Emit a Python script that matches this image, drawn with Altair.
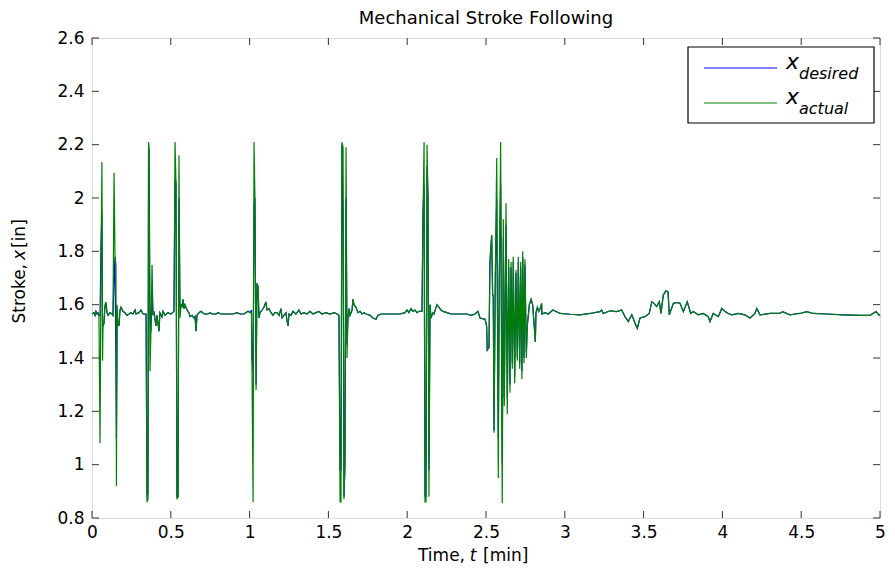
import altair as alt
import pandas as pd

t_min = [
    0.000, 0.013, 0.019, 0.025, 0.032, 0.038, 0.044, 0.051, 0.057, 0.063,
    0.067, 0.070, 0.076, 0.082, 0.089, 0.095, 0.102, 0.114, 0.127, 0.133,
    0.140, 0.146, 0.152, 0.155, 0.159, 0.165, 0.171, 0.178, 0.184, 0.197,
    0.209, 0.222, 0.235, 0.247, 0.260, 0.273, 0.279, 0.298, 0.311, 0.324,
    0.343, 0.349, 0.355, 0.359, 0.362, 0.368, 0.374, 0.381, 0.387, 0.393,
    0.400, 0.406, 0.412, 0.419, 0.425, 0.431, 0.444, 0.451, 0.463, 0.482,
    0.501, 0.520, 0.527, 0.533, 0.539, 0.546, 0.552, 0.558, 0.565, 0.571,
    0.577, 0.584, 0.590, 0.603, 0.615, 0.622, 0.635, 0.647, 0.654, 0.660,
    0.666, 0.679, 0.692, 0.711, 0.736, 0.749, 0.761, 0.787, 0.799, 0.819,
    0.844, 0.869, 0.895, 0.920, 0.939, 0.964, 0.990, 1.003, 1.012, 1.015,
    1.022, 1.028, 1.034, 1.041, 1.047, 1.053, 1.060, 1.066, 1.079, 1.091,
    1.104, 1.110, 1.123, 1.136, 1.148, 1.161, 1.174, 1.187, 1.199, 1.206,
    1.218, 1.231, 1.237, 1.244, 1.250, 1.263, 1.275, 1.294, 1.313, 1.326,
    1.345, 1.364, 1.383, 1.402, 1.421, 1.440, 1.459, 1.485, 1.510, 1.536,
    1.555, 1.567, 1.574, 1.580, 1.586, 1.593, 1.599, 1.605, 1.612, 1.618,
    1.624, 1.631, 1.637, 1.650, 1.656, 1.662, 1.675, 1.688, 1.701, 1.713,
    1.726, 1.739, 1.764, 1.783, 1.802, 1.815, 1.834, 1.859, 1.891, 1.923,
    1.954, 1.986, 1.999, 2.011, 2.024, 2.037, 2.049, 2.062, 2.075, 2.094,
    2.100, 2.107, 2.113, 2.119, 2.126, 2.132, 2.138, 2.145, 2.151, 2.157,
    2.164, 2.170, 2.183, 2.189, 2.202, 2.214, 2.227, 2.253, 2.278, 2.303,
    2.329, 2.354, 2.379, 2.405, 2.430, 2.449, 2.462, 2.494, 2.504, 2.508,
    2.519, 2.525, 2.536, 2.542, 2.546, 2.551, 2.559, 2.568, 2.578, 2.584,
    2.593, 2.603, 2.610, 2.616, 2.627, 2.635, 2.644, 2.652, 2.659, 2.667,
    2.673, 2.682, 2.690, 2.699, 2.705, 2.714, 2.720, 2.728, 2.733, 2.741,
    2.747, 2.756, 2.762, 2.775, 2.786, 2.796, 2.806, 2.813, 2.817, 2.826,
    2.834, 2.843, 2.853, 2.855, 2.874, 2.895, 2.925, 2.970, 3.033, 3.096,
    3.160, 3.223, 3.234, 3.244, 3.287, 3.329, 3.361, 3.382, 3.403, 3.425,
    3.446, 3.460, 3.477, 3.509, 3.536, 3.552, 3.566, 3.583, 3.600, 3.610,
    3.625, 3.642, 3.655, 3.663, 3.689, 3.710, 3.731, 3.752, 3.777, 3.799,
    3.815, 3.847, 3.878, 3.910, 3.921, 3.942, 3.974, 3.996, 4.017, 4.037,
    4.059, 4.101, 4.143, 4.175, 4.207, 4.218, 4.239, 4.302, 4.365, 4.382,
    4.429, 4.461, 4.492, 4.535, 4.577, 4.662, 4.767, 4.873, 4.937, 4.975,
    4.996, 5.000,
]

x_actual = [
    1.565, 1.570, 1.560, 1.575, 1.565, 1.570, 1.560, 1.080, 1.750, 2.135,
    1.390, 1.520, 1.530, 1.600, 1.610, 1.570, 1.560, 1.570, 1.565, 1.560,
    2.095, 1.780, 1.750, 0.920, 1.600, 1.530, 1.520, 1.580, 1.590, 1.575,
    1.570, 1.560, 1.565, 1.570, 1.565, 1.580, 1.565, 1.570, 1.580, 1.565,
    1.565, 0.860, 0.870, 2.210, 2.190, 1.350, 1.500, 1.750, 1.560, 1.575,
    1.545, 1.520, 1.560, 1.530, 1.500, 1.570, 1.555, 1.575, 1.560, 1.570,
    1.565, 1.575, 2.210, 2.050, 0.870, 0.880, 2.160, 1.550, 1.600, 1.590,
    1.620, 1.585, 1.600, 1.580, 1.570, 1.555, 1.560, 1.550, 1.555, 1.500,
    1.560, 1.570, 1.575, 1.565, 1.565, 1.570, 1.565, 1.565, 1.570, 1.565,
    1.565, 1.565, 1.565, 1.570, 1.565, 1.565, 1.575, 1.570, 1.570, 1.380,
    0.860, 2.210, 2.000, 1.280, 1.680, 1.670, 1.550, 1.570, 1.580, 1.590,
    1.610, 1.580, 1.585, 1.570, 1.560, 1.570, 1.570, 1.560, 1.585, 1.550,
    1.560, 1.570, 1.540, 1.520, 1.565, 1.560, 1.575, 1.565, 1.580, 1.565,
    1.570, 1.565, 1.575, 1.565, 1.570, 1.575, 1.565, 1.570, 1.565, 1.570,
    1.565, 1.560, 0.860, 0.860, 2.210, 2.190, 0.870, 1.000, 2.190, 1.400,
    1.550, 1.585, 1.560, 1.580, 1.620, 1.600, 1.590, 1.570, 1.575, 1.565,
    1.570, 1.565, 1.560, 1.550, 1.545, 1.560, 1.565, 1.565, 1.565, 1.565,
    1.565, 1.570, 1.580, 1.570, 1.585, 1.575, 1.580, 1.570, 1.575, 1.575,
    1.900, 2.210, 0.860, 0.860, 2.200, 2.000, 0.880, 1.600, 1.550, 1.560,
    1.570, 1.565, 1.590, 1.600, 1.590, 1.580, 1.575, 1.570, 1.565, 1.565,
    1.565, 1.565, 1.565, 1.560, 1.565, 1.575, 1.550, 1.545, 1.520, 1.430,
    1.440, 1.760, 1.860, 1.640, 1.630, 1.120, 1.700, 2.150, 0.950, 1.690,
    2.210, 0.855, 1.920, 1.220, 1.980, 1.190, 1.770, 1.270, 1.760, 1.360,
    1.780, 1.305, 1.730, 1.390, 1.780, 1.360, 1.760, 1.320, 1.800, 1.380,
    1.770, 1.400, 1.520, 1.600, 1.620, 1.600, 1.520, 1.460, 1.570, 1.590,
    1.575, 1.585, 1.605, 1.565, 1.570, 1.565, 1.580, 1.567, 1.564, 1.562,
    1.567, 1.574, 1.580, 1.567, 1.577, 1.574, 1.580, 1.555, 1.537, 1.562,
    1.530, 1.511, 1.550, 1.555, 1.567, 1.611, 1.605, 1.593, 1.611, 1.567,
    1.636, 1.652, 1.648, 1.562, 1.605, 1.608, 1.605, 1.574, 1.611, 1.567,
    1.574, 1.562, 1.567, 1.555, 1.537, 1.567, 1.555, 1.586, 1.574, 1.567,
    1.562, 1.567, 1.562, 1.550, 1.567, 1.586, 1.562, 1.567, 1.567, 1.574,
    1.562, 1.565, 1.567, 1.574, 1.567, 1.565, 1.562, 1.560, 1.560, 1.574,
    1.560, 1.562,
]

x_desired = [
    1.565, 1.570, 1.560, 1.575, 1.565, 1.570, 1.560, 1.560, 1.820, 1.950,
    1.520, 1.520, 1.530, 1.590, 1.600, 1.570, 1.560, 1.570, 1.565, 1.560,
    1.700, 1.780, 1.350, 1.100, 1.520, 1.530, 1.520, 1.580, 1.590, 1.575,
    1.570, 1.560, 1.565, 1.570, 1.565, 1.580, 1.565, 1.570, 1.580, 1.565,
    1.565, 0.880, 0.890, 2.190, 2.180, 1.550, 1.500, 1.650, 1.560, 1.575,
    1.545, 1.520, 1.560, 1.530, 1.500, 1.570, 1.555, 1.575, 1.560, 1.570,
    1.565, 1.575, 2.070, 2.060, 0.880, 0.880, 2.000, 1.600, 1.600, 1.590,
    1.620, 1.585, 1.600, 1.580, 1.570, 1.555, 1.560, 1.550, 1.555, 1.500,
    1.560, 1.570, 1.575, 1.565, 1.565, 1.570, 1.565, 1.565, 1.570, 1.565,
    1.565, 1.565, 1.565, 1.570, 1.565, 1.565, 1.575, 1.570, 1.580, 1.400,
    1.350, 1.980, 2.000, 1.300, 1.680, 1.670, 1.550, 1.570, 1.580, 1.590,
    1.610, 1.580, 1.585, 1.570, 1.560, 1.570, 1.570, 1.560, 1.585, 1.550,
    1.560, 1.570, 1.540, 1.520, 1.565, 1.560, 1.575, 1.565, 1.580, 1.565,
    1.570, 1.565, 1.575, 1.565, 1.570, 1.575, 1.565, 1.570, 1.565, 1.570,
    1.565, 1.560, 0.980, 0.980, 2.200, 1.930, 0.880, 1.000, 2.000, 1.450,
    1.550, 1.585, 1.560, 1.580, 1.620, 1.600, 1.590, 1.570, 1.575, 1.565,
    1.570, 1.565, 1.560, 1.550, 1.545, 1.560, 1.565, 1.565, 1.565, 1.565,
    1.565, 1.570, 1.580, 1.570, 1.585, 1.575, 1.580, 1.570, 1.575, 1.575,
    1.950, 2.050, 0.880, 0.880, 2.120, 2.000, 0.980, 1.600, 1.550, 1.560,
    1.570, 1.565, 1.590, 1.600, 1.590, 1.580, 1.575, 1.570, 1.565, 1.565,
    1.565, 1.565, 1.565, 1.560, 1.565, 1.575, 1.550, 1.545, 1.520, 1.430,
    1.440, 1.760, 1.860, 1.640, 1.630, 1.130, 1.700, 2.000, 1.100, 1.690,
    2.050, 1.000, 1.850, 1.250, 1.900, 1.250, 1.740, 1.300, 1.740, 1.380,
    1.760, 1.330, 1.720, 1.400, 1.760, 1.380, 1.740, 1.350, 1.780, 1.400,
    1.750, 1.420, 1.520, 1.600, 1.620, 1.600, 1.520, 1.460, 1.570, 1.590,
    1.575, 1.585, 1.605, 1.565, 1.570, 1.565, 1.580, 1.567, 1.564, 1.562,
    1.567, 1.574, 1.580, 1.567, 1.577, 1.574, 1.580, 1.555, 1.537, 1.562,
    1.530, 1.511, 1.550, 1.555, 1.567, 1.611, 1.605, 1.593, 1.611, 1.567,
    1.636, 1.652, 1.648, 1.562, 1.605, 1.608, 1.605, 1.574, 1.611, 1.567,
    1.574, 1.562, 1.567, 1.555, 1.537, 1.567, 1.555, 1.586, 1.574, 1.567,
    1.562, 1.567, 1.562, 1.550, 1.567, 1.586, 1.562, 1.567, 1.567, 1.574,
    1.562, 1.565, 1.567, 1.574, 1.567, 1.565, 1.562, 1.560, 1.560, 1.574,
    1.560, 1.562,
]

x_ticks = [0, 0.5, 1, 1.5, 2, 2.5, 3, 3.5, 4, 4.5, 5]
y_ticks = [0.8, 1.0, 1.2, 1.4, 1.6, 1.8, 2.0, 2.2, 2.4, 2.6]

W, H = 788, 480
FONT = "DejaVu Sans"

df = pd.DataFrame({"t": t_min, "actual": x_actual, "desired": x_desired})
xt = pd.DataFrame({"t": x_ticks})
yt = pd.DataFrame({"v": y_ticks})
one = pd.DataFrame({"a": [0]})

xscale = alt.Scale(domain=[0, 5], nice=False, zero=False)
yscale = alt.Scale(domain=[0.8, 2.6], nice=False, zero=False)

xaxis = alt.Axis(values=x_ticks, format="~g", ticks=False, domain=False, grid=False,
                 labelPadding=6, labelFontSize=17, labelFont=FONT, labelColor="black",
                 title=None, labelFlush=False)
yaxis = alt.Axis(values=y_ticks, format="~g", ticks=False, domain=False, grid=False,
                 labelPadding=8, labelFontSize=17, labelFont=FONT, labelColor="black",
                 title=None)


def X(field):
    return alt.X(field, scale=xscale, axis=xaxis)


def Y(field):
    return alt.Y(field, scale=yscale, axis=yaxis)


base = alt.Chart(df)
desired_line = base.mark_line(color="#0000ff", strokeWidth=1.2).encode(
    x=X("t:Q"), y=Y("desired:Q"), order="t:Q")
actual_line = base.mark_line(color="#008000", strokeWidth=1.2).encode(
    x=X("t:Q"), y=Y("actual:Q"), order="t:Q")

TL = 7
tick_col = "#333333"
xt_bot = alt.Chart(xt).mark_rule(color=tick_col, strokeWidth=1).encode(
    x=X("t:Q"), y=alt.value(H), y2=alt.value(H - TL))
xt_top = alt.Chart(xt).mark_rule(color=tick_col, strokeWidth=1).encode(
    x=X("t:Q"), y=alt.value(0), y2=alt.value(TL))
yt_left = alt.Chart(yt).mark_rule(color=tick_col, strokeWidth=1).encode(
    y=Y("v:Q"), x=alt.value(0), x2=alt.value(TL))
yt_right = alt.Chart(yt).mark_rule(color=tick_col, strokeWidth=1).encode(
    y=Y("v:Q"), x=alt.value(W), x2=alt.value(W - TL))


def txt(s, x, y, size=17, style="normal", align="left", angle=0, baseline="alphabetic"):
    return alt.Chart(one).mark_text(
        text=s, font=FONT, fontSize=size, fontStyle=style, align=align,
        baseline=baseline, angle=angle, color="black"
    ).encode(x=alt.value(x), y=alt.value(y))


# legend
box = alt.Chart(one).mark_rect(fill="white", stroke="black", strokeWidth=1.2).encode(
    x=alt.value(596), x2=alt.value(782), y=alt.value(9), y2=alt.value(85))
leg_blue = alt.Chart(one).mark_rule(color="#0000ff", strokeWidth=1.2).encode(
    x=alt.value(612), x2=alt.value(685), y=alt.value(30))
leg_green = alt.Chart(one).mark_rule(color="#008000", strokeWidth=1.2).encode(
    x=alt.value(612), x2=alt.value(685), y=alt.value(65))

legend_texts = [
    txt("x", 694, 31, size=22, style="italic"),
    txt("desired", 707, 41, size=16, style="italic"),
    txt("x", 694, 66, size=22, style="italic"),
    txt("actual", 707, 76, size=16, style="italic"),
]

# axis titles
axis_titles = [
    txt("Time,", 373, 523, align="right"),
    txt("t", 381, 523, style="italic", align="center"),
    txt("[min]", 391, 523, align="left"),
    txt("Stroke,", -72, 226, align="right", angle=270, baseline="middle"),
    txt("x", -72, 217, style="italic", align="center", angle=270, baseline="middle"),
    txt("[in]", -72, 210, align="left", angle=270, baseline="middle"),
]

chart = alt.layer(
    desired_line, actual_line, xt_bot, xt_top, yt_left, yt_right,
    box, leg_blue, leg_green, *legend_texts, *axis_titles
).properties(
    width=W, height=H,
    title=alt.TitleParams("Mechanical Stroke Following", font=FONT, fontSize=18,
                          fontWeight="normal", color="black", anchor="middle", offset=1),
    autosize=alt.AutoSizeParams(type="none"),
    padding={"left": 92, "top": 38, "right": 15, "bottom": 55},
).configure_view(stroke="black", strokeWidth=1.3).configure(background="white")

chart.save("out.html", embed_options={"renderer": "svg", "actions": False})
